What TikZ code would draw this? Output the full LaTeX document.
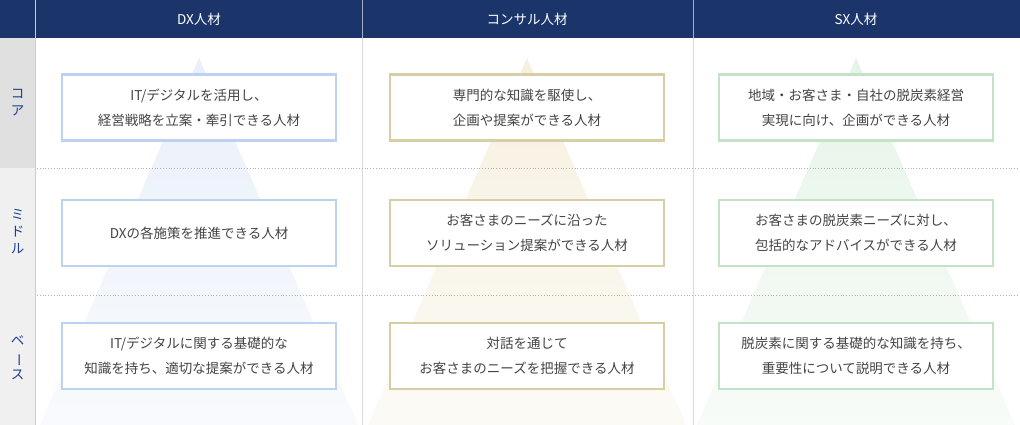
\documentclass[tikz,border=0pt]{standalone}
\usepackage{fontspec}
\newfontfamily\jp{Noto Sans CJK JP}
\newfontfamily\jpm{Noto Sans CJK JP Medium}
\definecolor{navy}{HTML}{1B356B}
\definecolor{lab}{HTML}{1E3F8E}
\definecolor{txt}{HTML}{444444}
\definecolor{bDX}{HTML}{BCD2F0}
\definecolor{bCO}{HTML}{D8CEA6}
\definecolor{bSX}{HTML}{C3E2C6}
\definecolor{tDX}{HTML}{E9F0FA}
\definecolor{tCO}{HTML}{F6F0DF}
\definecolor{tSX}{HTML}{E6F4E8}
\begin{document}
\begin{tikzpicture}[x=1pt,y=-1pt,
  head/.style={text=white,font=\jp\fontsize{13.5}{16}\selectfont},
  side/.style={text=lab,font=\jp\fontsize{13.5}{17}\selectfont,align=center},
  card/.style={draw=#1,line width=2.2pt,fill=white,minimum width=274pt,minimum height=66pt,align=center,text=txt,font=\jp\fontsize{13.5}{25}\selectfont,
     append after command={\pgfextra{\draw[#1!60!black!80!white,line width=0.4pt] ([xshift=2pt,yshift=-2pt]\tikzlastnode.north west) rectangle ([xshift=-2pt,yshift=2pt]\tikzlastnode.south east);}}},
  sep/.style={draw=black!30,dotted,line width=0.8pt}]
\useasboundingbox (0,0) rectangle (1020,425);
\fill[white] (0,0) rectangle (1020,425);
\fill[navy] (0,0) rectangle (1020,38);
\fill[black!12] (0,38) rectangle (35,168);
\fill[black!6] (0,168) rectangle (35,425);
\draw[white!80!black,line width=0.8pt] (35,0) -- (35,425);
\foreach \x in {362,693}{\draw[black!15,line width=1pt] (\x,38) -- (\x,425); \draw[white!60!navy,line width=0.6pt] (\x,0) -- (\x,38);}
% triangles
\shade[top color=tDX,bottom color=tDX!30!white] (199,58) -- (358,425) -- (40,425) -- cycle;
\shade[top color=tCO,bottom color=tCO!30!white] (527,58) -- (686,425) -- (368,425) -- cycle;
\shade[top color=tSX,bottom color=tSX!30!white] (856,58) -- (1015,425) -- (697,425) -- cycle;
\foreach \y in {168,295}{\draw[sep] (37,\y) -- (1020,\y);}
\node[head] (h1) at (199,19) {DX人材};
\node[head] (h2) at (527,19) {コンサル人材};
\node[head] (h3) at (856,19) {SX人材};
\node[side] (s1) at (17.5,103) {コ\\ア};
\node[side] (s2) at (17.5,232) {ミ\\ド\\ル};
\node[side] (s3) at (17.5,358) {ベ\\\rotatebox[origin=c]{-90}{ー}\\ス};
\node[card=bDX] (a1) at (199,107.5) {IT/デジタルを活用し、\\経営戦略を立案・牽引できる人材};
\node[card=bDX] (a2) at (199,233) {DXの各施策を推進できる人材};
\node[card=bDX] (a3) at (199,356) {IT/デジタルに関する基礎的な\\知識を持ち、適切な提案ができる人材};
\node[card=bCO] (b1) at (527,107.5) {専門的な知識を駆使し、\\企画や提案ができる人材};
\node[card=bCO] (b2) at (527,233) {お客さまのニーズに沿った\\ソリューション提案ができる人材};
\node[card=bCO] (b3) at (527,356) {対話を通じて\\お客さまのニーズを把握できる人材};
\node[card=bSX] (c1) at (856,107.5) {地域・お客さま・自社の脱炭素経営\\実現に向け、企画ができる人材};
\node[card=bSX] (c2) at (856,233) {お客さまの脱炭素ニーズに対し、\\包括的なアドバイスができる人材};
\node[card=bSX] (c3) at (856,356) {脱炭素に関する基礎的な知識を持ち、\\重要性について説明できる人材};
\end{tikzpicture}
\end{document}
